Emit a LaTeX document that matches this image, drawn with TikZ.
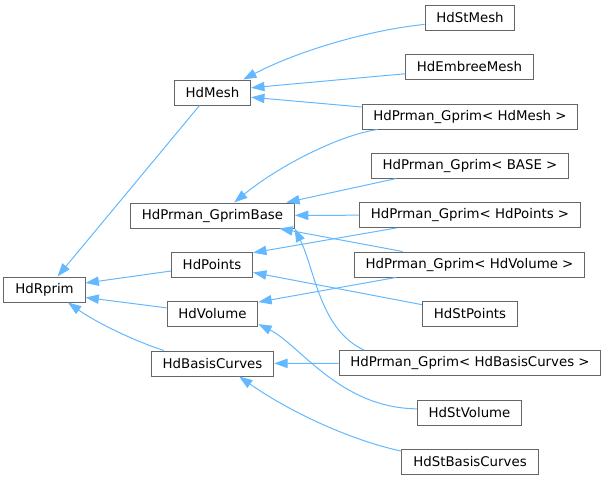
\documentclass[tikz,border=0pt]{standalone}
\usepackage{fontspec}
\setmainfont{DejaVu Sans}
\usetikzlibrary{arrows.meta}
\definecolor{boxgray}{HTML}{666666}
\definecolor{edgeblue}{HTML}{63B8FF}
\tikzset{
  cls/.style={draw=boxgray, fill=white, line width=0.75pt, inner xsep=8.5pt, inner ysep=0pt,
    minimum height=18.75pt, font=\fontsize{10pt}{12pt}\selectfont},
  inh/.style={draw=edgeblue, line width=0.75pt, -{Triangle[length=10pt,width=7pt,fill=edgeblue]}}
}
\begin{document}
\begin{tikzpicture}[x=0.75pt,y=-0.75pt]
\useasboundingbox (0,0) rectangle (604,480);
% root
\node[cls] (hdrprim) at (44.5,289.5) {HdRprim};
% middle column
\node[cls] (hdmesh) at (212.5,92.5) {HdMesh};
\node[cls] (gprimbase) at (212.5,215.5) {HdPrman\_GprimBase};
\node[cls] (hdpoints) at (212,264.5) {HdPoints};
\node[cls] (hdvolume) at (212.5,313.5) {HdVolume};
\node[cls] (hdbasiscurves) at (212.5,363.5) {HdBasisCurves};
% right column
\node[cls] (hdstmesh) at (470,18) {HdStMesh};
\node[cls] (hdembreemesh) at (469.5,67) {HdEmbreeMesh};
\node[cls] (gprimmesh) at (470,116.5) {HdPrman\_Gprim< HdMesh >};
\node[cls] (gprimtpl) at (470,165.5) {HdPrman\_Gprim< BASE >};
\node[cls] (gprimpoints) at (470,215) {HdPrman\_Gprim< HdPoints >};
\node[cls] (gprimvolume) at (469.5,264.5) {HdPrman\_Gprim< HdVolume >};
\node[cls] (hdstpoints) at (470,314) {HdStPoints};
\node[cls] (gprimcurves) at (470,363) {HdPrman\_Gprim< HdBasisCurves >};
\node[cls] (hdstvolume) at (469.5,412.5) {HdStVolume};
\node[cls] (hdstbasiscurves) at (470,462) {HdStBasisCurves};
% to HdRprim
\draw[inh] (hdmesh.225) -- (hdrprim.45);
\draw[inh] (hdpoints.189) -- (hdrprim.9);
\draw[inh] (hdvolume.173) -- (hdrprim.349);
\draw[inh] (hdbasiscurves.165) .. controls (140,343) and (100,325) .. (hdrprim.331);
% to HdMesh
\draw[inh] (hdstmesh.188) .. controls (370,30) and (300,50) .. (hdmesh.23);
\draw[inh] (hdembreemesh.186) -- (hdmesh.7);
\draw[inh] (gprimmesh.175) -- (hdmesh.353);
% to HdPrman_GprimBase
\draw[inh] (gprimmesh.188) .. controls (340,135) and (280,165) .. (gprimbase.31);
\draw[inh] (gprimtpl.190) -- (gprimbase.10);
\draw[inh] (gprimpoints) -- (gprimbase);
\draw[inh] (gprimvolume.169) -- (gprimbase.349);
\draw[inh] (gprimcurves.173) .. controls (320,330) and (315,270) .. (gprimbase.351);
% to HdPoints, HdVolume, HdBasisCurves
\draw[inh] (gprimpoints.190) -- (hdpoints.16);
\draw[inh] (hdstpoints.169) -- (hdpoints.349);
\draw[inh] (gprimvolume.190) -- (hdvolume.14);
\draw[inh] (hdstvolume.176) .. controls (340,408) and (300,345) .. (hdvolume.347);
\draw[inh] (gprimcurves) -- (hdbasiscurves);
\draw[inh] (hdstbasiscurves.171) .. controls (350,440) and (290,412) .. (hdbasiscurves.334);
\end{tikzpicture}
\end{document}
